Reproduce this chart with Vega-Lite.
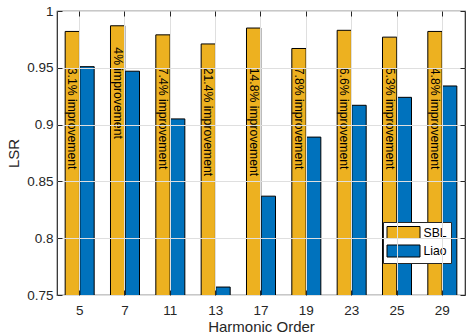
{
  "$schema": "https://vega.github.io/schema/vega-lite/v6.json",
  "width": 408,
  "height": 284,
  "autosize": {"type": "none"},
  "padding": {"left": 57, "top": 11, "right": 1, "bottom": 40},
  "background": "white",
  "config": {
    "font": "Liberation Sans",
    "view": {"stroke": "#262626", "strokeWidth": 1.2},
    "axis": {
      "labelFont": "Liberation Sans",
      "labelFontSize": 13.5,
      "labelColor": "#262626",
      "titleFont": "Liberation Sans",
      "titleFontSize": 15,
      "titleFontWeight": "normal",
      "titleColor": "#262626",
      "tickColor": "#262626",
      "tickWidth": 1,
      "tickSize": -5,
      "domain": false,
      "gridColor": "#dfdfdf",
      "gridWidth": 1
    },
    "legend": {
      "labelFont": "Liberation Sans"
    }
  },
  "datasets": {
    "bars": [
      {"order": 5, "series": "SBL", "lsr": 0.982},
      {"order": 7, "series": "SBL", "lsr": 0.987},
      {"order": 11, "series": "SBL", "lsr": 0.979},
      {"order": 13, "series": "SBL", "lsr": 0.971},
      {"order": 17, "series": "SBL", "lsr": 0.985},
      {"order": 19, "series": "SBL", "lsr": 0.967},
      {"order": 23, "series": "SBL", "lsr": 0.983},
      {"order": 25, "series": "SBL", "lsr": 0.977},
      {"order": 29, "series": "SBL", "lsr": 0.982},
      {"order": 5, "series": "Liao", "lsr": 0.951},
      {"order": 7, "series": "Liao", "lsr": 0.947},
      {"order": 11, "series": "Liao", "lsr": 0.905},
      {"order": 13, "series": "Liao", "lsr": 0.757},
      {"order": 17, "series": "Liao", "lsr": 0.837},
      {"order": 19, "series": "Liao", "lsr": 0.889},
      {"order": 23, "series": "Liao", "lsr": 0.917},
      {"order": 25, "series": "Liao", "lsr": 0.924},
      {"order": 29, "series": "Liao", "lsr": 0.934}
    ],
    "notes": [
      {"order": 5, "series": "SBL", "note": "3.1% improvement"},
      {"order": 7, "series": "SBL", "note": "4% improvement"},
      {"order": 11, "series": "SBL", "note": "7.4% improvement"},
      {"order": 13, "series": "SBL", "note": "21.4% improvement"},
      {"order": 17, "series": "SBL", "note": "14.8% improvement"},
      {"order": 19, "series": "SBL", "note": "7.8% improvement"},
      {"order": 23, "series": "SBL", "note": "6.6% improvement"},
      {"order": 25, "series": "SBL", "note": "5.3% improvement"},
      {"order": 29, "series": "SBL", "note": "4.8% improvement"}
    ]
  },
  "resolve": {"axis": {"x": "independent", "y": "independent"}},
  "layer": [
    {
      "data": {"name": "bars"},
      "mark": {"type": "bar", "stroke": "black", "strokeWidth": 1, "clip": true},
      "encoding": {
        "x": {
          "field": "order", "type": "ordinal",
          "scale": {"paddingInner": 0.36, "paddingOuter": 0.18},
          "axis": {"title": "Harmonic Order", "labelAngle": 0, "grid": true, "labelPadding": 13, "titlePadding": 3, "zindex": 1}
        },
        "xOffset": {
          "field": "series", "type": "nominal",
          "scale": {"domain": ["SBL", "Liao"], "paddingInner": 0.03}
        },
        "y": {
          "field": "lsr", "type": "quantitative",
          "scale": {"domain": [0.75, 1], "zero": false, "nice": false},
          "axis": {"title": "LSR", "values": [0.75, 0.8, 0.85, 0.9, 0.95, 1], "format": "~g", "grid": true, "labelPadding": 9, "titlePadding": 5, "zindex": 1}
        },
        "color": {
          "field": "series", "type": "nominal",
          "scale": {"domain": ["SBL", "Liao"], "range": ["#EDB120", "#0072BD"]},
          "legend": {
            "orient": "none", "legendX": 326, "legendY": 211,
            "title": null,
            "symbolType": "M0,-1H5.5V1H0Z",
            "symbolSize": 144,
            "symbolOffset": -6.5,
            "symbolStrokeColor": "black",
            "symbolStrokeWidth": 1,
            "symbolOpacity": 1,
            "labelOffset": 30,
            "labelFontSize": 12.2,
            "labelColor": "#000000",
            "padding": 4,
            "rowPadding": 1.5,
            "strokeColor": "#262626",
            "fillColor": "#ffffff"
          }
        }
      }
    },
    {
      "data": {"name": "notes"},
      "transform": [{"filter": "datum.order != 7"}],
      "mark": {"type": "text", "angle": 90, "align": "left", "baseline": "middle", "fontSize": 12.2, "color": "#000000", "font": "Liberation Sans"},
      "encoding": {
        "x": {"field": "order", "type": "ordinal", "axis": {"orient": "top", "labels": false, "title": null, "grid": false, "zindex": 1}},
        "xOffset": {"field": "series", "type": "nominal"},
        "y": {"datum": 0.95, "type": "quantitative", "axis": {"orient": "right", "labels": false, "title": null, "grid": false, "values": [0.75, 0.8, 0.85, 0.9, 0.95, 1], "zindex": 1}},
        "text": {"field": "note", "type": "nominal"}
      }
    },
    {
      "data": {"name": "notes"},
      "transform": [{"filter": "datum.order == 7"}],
      "mark": {"type": "text", "angle": 90, "align": "left", "baseline": "middle", "fontSize": 12.2, "color": "#000000", "font": "Liberation Sans"},
      "encoding": {
        "x": {"field": "order", "type": "ordinal", "axis": null},
        "xOffset": {"field": "series", "type": "nominal"},
        "y": {"datum": 0.968, "type": "quantitative", "axis": null},
        "text": {"field": "note", "type": "nominal"}
      }
    }
  ]
}
